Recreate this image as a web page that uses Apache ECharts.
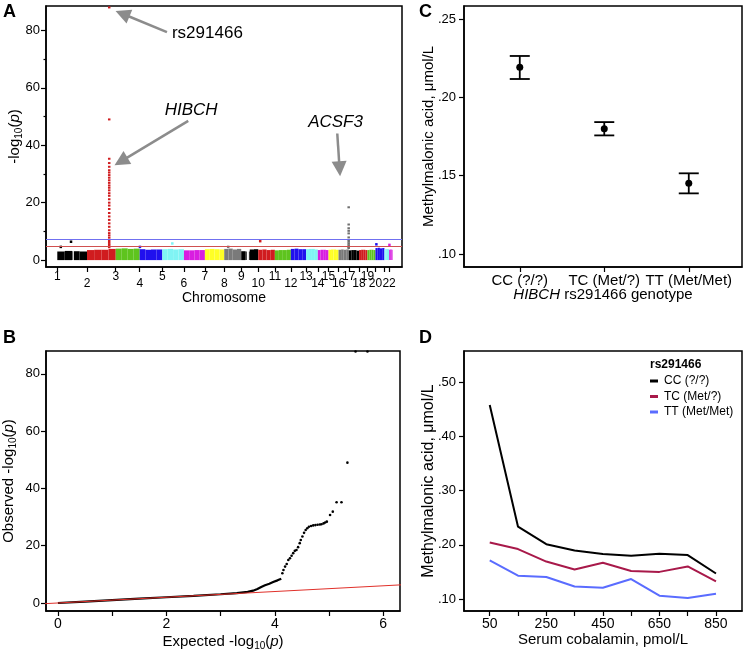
<!DOCTYPE html>
<html><head><meta charset="utf-8">
<script src="https://cdn.jsdelivr.net/npm/echarts@6/dist/echarts.min.js"></script>
<style>html,body{margin:0;padding:0;background:#fff}#c{width:747px;height:654px}</style>
</head><body><div id="c"></div>
<script>
// ---------- Panel A: Manhattan plot data ----------
const chromNames = ['1','2','3','4','5','6','7','8','9','10','11','12','13','14','15','16','17','18','19','20','21','22'];
const chromLengthsMb = [255,247,206,194,186,180,166,146,146,143,137,131,101,92,86,88,88,72,69,77,40,30];
const chromColors = ['#000000','#d01c1f','#5ec41e','#2010ee','#80f4f4','#d81ee0','#ffff26','#7a7a7a'];
const hiddenChromLabels = ['21'];
// top of the dense band of SNPs, per chromosome, in 4 segments
const bandTops = [
  [3.0,3.2,3.1,3.0],[3.5,3.6,3.6,3.9],[4.0,4.1,3.9,4.0],[3.8,3.6,3.7,3.7],
  [3.8,3.9,3.7,3.8],[3.4,3.4,3.5,3.5],[3.8,3.9,3.8,3.7],[3.9,4.0,3.7,3.9],
  [3.1,3.0,3.7,3.8],[3.6,3.7,3.5,3.6],[3.4,3.5,3.5,3.6],[3.9,4.0,3.8,3.8],
  [3.8,3.9,3.9,3.7],[3.5,3.6,3.6,3.5],[3.6,3.7,3.7,3.6],[3.6,3.7,3.6,3.7],
  [3.4,3.5,3.5,3.3],[3.5,3.6,3.6,3.5],[3.5,3.6,3.6,3.5],[4.2,4.3,4.1,4.2],
  [3.8,3.9,3.9,3.8],[3.6,3.7,3.7,3.6]
];
const bandGaps = [[1,128,142],[9,47,66]]; // [chrom, fromMb, toMb]
const hibchChrom = 2, hibchPosMb = 191;
const hibchValues = [88,49,35.3,33.8,32.5,31.3,30.5,29.6,28.7,27.8,26.9,26,25.2,24.3,23.3,22.4,21.2,20,19,17.8,16.4,15.2,14,12.8,11.6,10.4,9.4,8.6,7.8,7,6.3,5.6,5,4.5];
const acsf3Chrom = 16, acsf3PosMb = 87;
const acsf3Values = [18.4,12.4,11.1,10.2,9.3,7.9,7,6.4,5.8,5.2,4.6,4.2];
const otherPeaks = [[1,118,6.4],[1,30,4.6],[4,2,4.6],[5,86,5.8],[8,34,4.6],[10,17,6.6],[20,8,5.5],[22,3,5.3]];
const genomeWideLine = 7.3, suggestiveLine = 5;
const annotations = [
  {text:'rs291466', italic:false, x:985, y:79.1, from:[942,79.4], to:[560,85.8], align:'left'},
  {text:'HIBCH', italic:true, x:1150, y:52.3, from:[1125,48.5], to:[547,34.4], align:'center'},
  {text:'ACSF3', italic:true, x:2390, y:47.9, from:[2405,44.1], to:[2425,31.8], align:'center'}
];

// ---------- Panel B: QQ plot data ----------
const qqDense = [[0,0],[0.5,0.5],[1,1],[1.5,1.5],[2,2],[2.5,2.5],[3,3.05],[3.3,3.45],[3.5,3.9],[3.6,4.3],[3.68,4.9],[3.75,5.6],[3.82,6.2],[3.9,6.7],[3.97,7.3],[4.05,7.9],[4.12,8.5]];
const qqSparse = [[4.14,10.4],[4.16,11.5],[4.19,12.7],[4.22,13.6],[4.25,15],[4.28,15.6],[4.31,16.5],[4.34,17.4],[4.37,18.2],[4.40,18.5],[4.43,19.5],[4.46,20.9],[4.48,22],[4.51,23.2],[4.54,24.5],[4.57,25.5],[4.6,26.1],[4.63,26.6],[4.67,26.9],[4.71,27.1],[4.75,27.2],[4.79,27.3],[4.83,27.4],[4.86,27.5],[4.9,27.8],[4.93,28.1],[4.96,28.4],[5.02,30.7],[5.07,31.9],[5.14,35.2],[5.23,35.2],[5.34,49],[5.49,87.8],[5.71,87.8]];
const qqExpectedLine = [[-0.5,-0.5],[7,7]];

// ---------- Panel C: genotype means ----------
const genotypes = ['CC (?/?)','TC (Met/?)','TT (Met/Met)'];
const mmaMean = [0.2192,0.1800,0.1451];
const mmaLow = [0.2117,0.1757,0.1387];
const mmaHigh = [0.2264,0.1842,0.1515];

// ---------- Panel D: MMA by cobalamin ----------
const cobalamin = [50,150,250,350,450,550,650,750,850];
const mmaCC = [0.4576,0.2333,0.2010,0.1895,0.1830,0.1797,0.1834,0.1810,0.1470];
const mmaTC = [0.2042,0.1920,0.1690,0.1545,0.1668,0.1515,0.1500,0.1600,0.1323];
const mmaTT = [0.1710,0.1429,0.1405,0.1231,0.1207,0.1368,0.1061,0.1018,0.1098];
const dSeriesNames = ['CC (?/?)','TC (Met/?)','TT (Met/Met)'];
const dColors = ['#000000','#a8194a','#5a6cff'];

// ---------- build derived structures ----------
const chromStarts = [];
let acc = 0;
chromLengthsMb.forEach(l => { chromStarts.push(acc); acc += l; });
const bandRects = [];
chromLengthsMb.forEach((len, i) => {
  const segs = bandTops[i];
  const segLen = len / segs.length;
  const gaps = bandGaps.filter(g => g[0] === i + 1);
  segs.forEach((h, k) => {
    let a = chromStarts[i] + k * segLen, b = a + segLen;
    let pieces = [[a, b]];
    gaps.forEach(g => {
      const ga = chromStarts[i] + g[1], gb = chromStarts[i] + g[2];
      const np = [];
      pieces.forEach(p => {
        if (gb <= p[0] || ga >= p[1]) { np.push(p); return; }
        if (ga > p[0]) np.push([p[0], ga]);
        if (gb < p[1]) np.push([gb, p[1]]);
      });
      pieces = np;
    });
    pieces.forEach(p => bandRects.push([p[0], p[1], h, i % chromColors.length]));
  });
});
const hibchPts = hibchValues.map(v => [chromStarts[hibchChrom - 1] + hibchPosMb, v]);
const acsf3Pts = acsf3Values.map(v => [chromStarts[acsf3Chrom - 1] + acsf3PosMb, v]);
const peakPts = otherPeaks.map(p => ({value:[chromStarts[p[0]-1] + p[1], p[2]], itemStyle:{color: chromColors[(p[0]-1) % chromColors.length]}}));
const labelStarts = chromStarts.filter((s, i) => hiddenChromLabels.indexOf(chromNames[i]) < 0);
const fmtDot = v => v.toFixed(2).replace(/^0/, '');

const FONT = "'Liberation Sans', Arial, Helvetica, sans-serif";
const black = '#000';
const axLine = {onZero:false, lineStyle:{color:black, width:1.5}};
const tickStyle = {color:black, width:1.2};
const subRich = {
  s:{fontSize:10, color:black, padding:[8,0,0,0]},
  i:{fontSize:15, color:black, fontStyle:'italic'}
};

const option = {
  animation:false,
  textStyle:{fontFamily:FONT, color:black},
  title:[
    {text:'A', left:3, top:3, padding:0, textStyle:{fontSize:18, fontWeight:'bold', color:black, fontFamily:FONT}},
    {text:'B', left:3, top:329, padding:0, textStyle:{fontSize:18, fontWeight:'bold', color:black, fontFamily:FONT}},
    {text:'C', left:419, top:3, padding:0, textStyle:{fontSize:18, fontWeight:'bold', color:black, fontFamily:FONT}},
    {text:'D', left:419, top:329, padding:0, textStyle:{fontSize:18, fontWeight:'bold', color:black, fontFamily:FONT}},
    {text:'rs291466', left:650, top:359, padding:0, textStyle:{fontSize:12, fontWeight:'bold', color:black, fontFamily:FONT}}
  ],
  legend:{
    data:dSeriesNames, orient:'vertical', left:650, top:374, padding:0,
    icon:'rect', itemWidth:8, itemHeight:3, itemGap:1.5,
    textStyle:{fontSize:12, color:black, fontFamily:FONT, lineHeight:14, padding:[0,0,0,1]}
  },
  grid:[
    {left:46, top:6, width:356, height:261, show:true, borderColor:black, borderWidth:1.5},
    {left:46, top:351, width:354, height:260, show:true, borderColor:black, borderWidth:1.5},
    {left:464, top:6, width:278, height:261, show:true, borderColor:black, borderWidth:1.5},
    {left:464, top:351, width:278, height:260, show:true, borderColor:black, borderWidth:1.5}
  ],
  xAxis:[
    {gridIndex:0, type:'value', min:-97, max:2961, axisLine:axLine, splitLine:{show:false},
     axisTick:{customValues:chromStarts, length:5, lineStyle:tickStyle},
     axisLabel:{customValues:labelStarts, margin:4, hideOverlap:false, color:black,
       formatter:v => { const i = chromStarts.findIndex(s => Math.abs(s - v) < 1e-6); const n = chromNames[i]; return (i % 2 === 0 ? '{hi|' : '{lo|') + n + '}'; },
       rich:{hi:{fontSize:12, color:black}, lo:{fontSize:12, color:black, padding:[7,0,0,0]}}},
     name:'Chromosome', nameLocation:'middle', nameGap:24, nameMoveOverlap:false, nameTextStyle:{fontSize:14, color:black}},
    {gridIndex:1, type:'value', min:-0.22, max:6.31, axisLine:axLine, splitLine:{show:false},
     axisTick:{customValues:[0,1,2,3,4,5,6], length:5, lineStyle:tickStyle},
     axisLabel:{customValues:[0,2,4,6], margin:6, fontSize:14, color:black},
     name:'Expected -log{s|10}({i|p})', nameLocation:'middle', nameGap:22, nameMoveOverlap:false, nameTextStyle:{fontSize:15, color:black, rich:subRich}},
    {gridIndex:2, type:'value', min:0.34, max:3.63, axisLine:axLine, splitLine:{show:false},
     axisTick:{customValues:[1,2,3], length:5, lineStyle:tickStyle},
     axisLabel:{customValues:[1,2,3], margin:6, fontSize:15, color:black, formatter:v => genotypes[Math.round(v) - 1]},
     name:'{i|HIBCH} rs291466 genotype', nameLocation:'middle', nameGap:20, nameMoveOverlap:false, nameTextStyle:{fontSize:15, color:black, rich:{i:{fontSize:15, fontStyle:'italic', color:black}}}},
    {gridIndex:3, type:'value', min:-41, max:942, axisLine:axLine, splitLine:{show:false},
     axisTick:{customValues:cobalamin, length:5, lineStyle:tickStyle},
     axisLabel:{customValues:cobalamin.filter((c, i) => i % 2 === 0), margin:6, fontSize:14, color:black},
     name:'Serum cobalamin, pmol/L', nameLocation:'middle', nameGap:21, nameMoveOverlap:false, nameTextStyle:{fontSize:15, color:black}}
  ],
  yAxis:[
    {gridIndex:0, type:'value', min:-2.4, max:88.5, axisLine:axLine, splitLine:{show:false},
     axisTick:{customValues:[0,20,40,60,80], length:5, lineStyle:tickStyle},
     axisLabel:{customValues:[0,20,40,60,80], margin:6, fontSize:13, color:black},
     name:'-log{s|10}({i|p})', nameLocation:'middle', nameGap:22, nameMoveOverlap:false, nameTextStyle:{fontSize:15, color:black, rich:subRich}},
    {gridIndex:0, type:'value', min:-2.4, max:88.5, position:'left', axisLine:{show:false, onZero:false}, splitLine:{show:false},
     axisTick:{customValues:[10,30,50,70], length:2.5, lineStyle:tickStyle}, axisLabel:{show:false}},
    {gridIndex:1, type:'value', min:-2.8, max:88, axisLine:axLine, splitLine:{show:false},
     axisTick:{customValues:[0,20,40,60,80], length:5, lineStyle:tickStyle},
     axisLabel:{customValues:[0,20,40,60,80], margin:6, fontSize:13, color:black},
     name:'Observed -log{s|10}({i|p})', nameLocation:'middle', nameGap:28, nameMoveOverlap:false, nameTextStyle:{fontSize:15, color:black, rich:subRich}},
    {gridIndex:2, type:'value', min:0.0917, max:0.2583, axisLine:axLine, splitLine:{show:false},
     axisTick:{customValues:[0.10,0.15,0.20,0.25], length:5, lineStyle:tickStyle},
     axisLabel:{customValues:[0.10,0.15,0.20,0.25], margin:8, fontSize:13, color:black, formatter:fmtDot},
     name:'Methylmalonic acid, \u03bcmol/L', nameLocation:'middle', nameGap:28, nameMoveOverlap:false, nameTextStyle:{fontSize:15, color:black}},
    {gridIndex:3, type:'value', min:0.0779, max:0.5571, axisLine:axLine, splitLine:{show:false},
     axisTick:{customValues:[0.10,0.20,0.30,0.40,0.50], length:5, lineStyle:tickStyle},
     axisLabel:{customValues:[0.10,0.20,0.30,0.40,0.50], margin:8, fontSize:13, color:black, formatter:fmtDot},
     name:'Methylmalonic acid, \u03bcmol/L', nameLocation:'middle', nameGap:27, nameMoveOverlap:false, nameTextStyle:{fontSize:16, color:black}}
  ],
  series:[
    // A: band of SNPs
    {type:'custom', xAxisIndex:0, yAxisIndex:0, data:bandRects, encode:{x:[0,1], y:2}, silent:true,
     renderItem:(params, api) => {
       const p0 = api.coord([api.value(0), 0]);
       const p1 = api.coord([api.value(1), api.value(2)]);
       return {type:'rect', shape:{x:p0[0], y:p1[1], width:Math.max(p1[0]-p0[0], 0.5), height:p0[1]-p1[1]}, style:{fill:chromColors[api.value(3)]}};
     }},
    {type:'scatter', xAxisIndex:0, yAxisIndex:0, data:peakPts, symbol:'rect', symbolSize:2.5, itemStyle:{opacity:1}, silent:true},
    {type:'scatter', xAxisIndex:0, yAxisIndex:0, data:hibchPts, symbol:'rect', symbolSize:[2.5,2], itemStyle:{color:'#d01c1f', opacity:1}, silent:true},
    {type:'scatter', xAxisIndex:0, yAxisIndex:0, data:acsf3Pts, symbol:'rect', symbolSize:[2.5,2], itemStyle:{color:'#6f6f6f', opacity:1}, silent:true},
    {type:'line', xAxisIndex:0, yAxisIndex:0, data:[], silent:true,
     markLine:{silent:true, symbol:'none', label:{show:false},
       data:[{yAxis:genomeWideLine, lineStyle:{color:'#7070f0', width:1, type:'solid'}},
             {yAxis:suggestiveLine, lineStyle:{color:'#d05050', width:1, type:'solid'}}]}},
    {type:'line', xAxisIndex:0, yAxisIndex:0, data:[], silent:true,
     markLine:{silent:true, symbol:['none','triangle'], symbolSize:15, label:{show:false},
       lineStyle:{color:'#8c8c8c', width:2.5, type:'solid'}, itemStyle:{color:'#8c8c8c'},
       data:annotations.map(a => [{coord:a.from}, {coord:a.to}])}},
    {type:'scatter', xAxisIndex:0, yAxisIndex:0, symbolSize:0, silent:true, itemStyle:{opacity:1},
     data:annotations.map(a => ({value:[a.x, a.y], name:a.text,
       label:{show:true, position:a.align === 'left' ? 'right' : 'inside', distance:0, formatter:a.text,
         fontSize:17, color:black, opacity:1, fontStyle:a.italic ? 'italic' : 'normal'}}))},
    // B: QQ
    {type:'line', xAxisIndex:1, yAxisIndex:2, data:qqDense, showSymbol:false, lineStyle:{color:black, width:2.2}, silent:true},
    {type:'scatter', xAxisIndex:1, yAxisIndex:2, data:qqSparse, symbolSize:2.6, itemStyle:{color:black, opacity:1}, silent:true},
    {type:'line', xAxisIndex:1, yAxisIndex:2, data:qqExpectedLine, showSymbol:false, clip:true, lineStyle:{color:'#e0302a', width:1}, z:5, silent:true},
    // C: mean and CI
    {type:'custom', xAxisIndex:2, yAxisIndex:3, silent:true,
     data:genotypes.map((g, i) => [i + 1, mmaLow[i], mmaHigh[i]]), encode:{x:0, y:[1,2]},
     renderItem:(params, api) => {
       const x = api.value(0);
       const lo = api.coord([x, api.value(1)]), hi = api.coord([x, api.value(2)]);
       const cap = 10, st = {stroke:black, lineWidth:1.8};
       return {type:'group', children:[
         {type:'line', shape:{x1:lo[0], y1:lo[1], x2:hi[0], y2:hi[1]}, style:st},
         {type:'line', shape:{x1:lo[0]-cap, y1:lo[1], x2:lo[0]+cap, y2:lo[1]}, style:st},
         {type:'line', shape:{x1:hi[0]-cap, y1:hi[1], x2:hi[0]+cap, y2:hi[1]}, style:st}
       ]};
     }},
    {type:'scatter', xAxisIndex:2, yAxisIndex:3, data:mmaMean.map((m, i) => [i + 1, m]), symbolSize:7, itemStyle:{color:black, opacity:1}, silent:true, z:5},
    // D: lines
    ...[mmaCC, mmaTC, mmaTT].map((arr, k) => ({
      type:'line', name:dSeriesNames[k], xAxisIndex:3, yAxisIndex:4, showSymbol:false,
      data:cobalamin.map((c, i) => [c, arr[i]]), lineStyle:{color:dColors[k], width:2}, itemStyle:{color:dColors[k]}, silent:true
    }))
  ]
};
const chart = echarts.init(document.getElementById('c'), null, {renderer:'canvas'});
chart.setOption(option);
</script>
</body></html>
